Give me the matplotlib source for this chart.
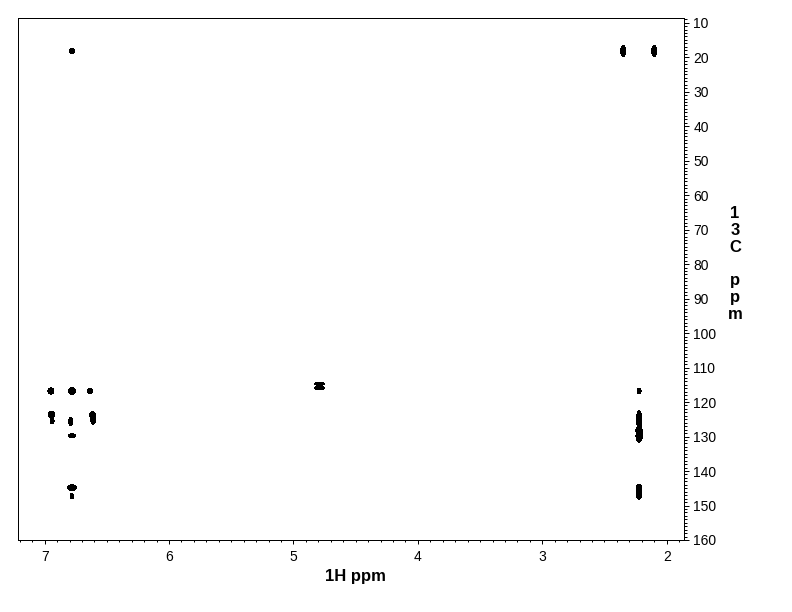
import numpy as np
import matplotlib
matplotlib.use("Agg")
import matplotlib.pyplot as plt
from matplotlib.ticker import MultipleLocator

plt.rcParams['font.family'] = ['Liberation Sans', 'DejaVu Sans']

# Cross-peak list: 1H shift, 13C shift, full widths (ppm) of the drawn contour
peak_h = [6.78, 2.35, 2.10, 4.79, 4.79,
          6.95, 6.78, 6.635,
          6.945, 6.94, 6.79, 6.615, 6.61,
          6.78, 6.78, 6.78,
          2.222, 2.222, 2.222, 2.222, 2.222, 2.222, 2.222]
peak_c = [18.2, 18.2, 18.2, 114.7, 115.9,
          116.8, 116.8, 116.8,
          123.6, 125.6, 125.7, 123.7, 125.6,
          129.8, 144.8, 147.3,
          116.8, 123.8, 125.6, 129.9, 145.2, 147.2, 128.1]
peak_wh = [0.040, 0.040, 0.040, 0.085, 0.085,
           0.048, 0.052, 0.040,
           0.050, 0.030, 0.034, 0.048, 0.034,
           0.058, 0.075, 0.030,
           0.032, 0.030, 0.042, 0.050, 0.046, 0.032, 0.036]
peak_wc = [1.5, 3.2, 3.2, 0.8, 0.9,
           1.8, 1.9, 1.6,
           1.9, 1.3, 2.4, 1.9, 1.6,
           1.2, 1.6, 1.5,
           1.6, 2.4, 2.6, 3.4, 2.8, 1.8, 1.2]

x_ticks = [7, 6, 5, 4, 3, 2]
y_ticks = list(range(10, 161, 10))
x_range = (7.214, 1.861)
y_range = (8.64, 160.0)

fig = plt.figure(figsize=(7.92, 6.12), dpi=100)
ax = fig.add_axes([18/792, 72/612, 666/792, 522/612])

hh = np.linspace(x_range[1], x_range[0], 2400)
cc = np.linspace(y_range[0], y_range[1], 1600)
H, C = np.meshgrid(hh, cc)
Z = np.zeros_like(H)
k = 2 * 1.1774
for h0, c0, wh, wc in zip(peak_h, peak_c, peak_wh, peak_wc):
    sh = wh / k
    sc = wc / k
    Z += np.exp(-0.5 * (((H - h0) / sh) ** 2 + ((C - c0) / sc) ** 2))

ax.contourf(H, C, Z, levels=[0.5, 1e9], colors='black')

ax.set_xlim(*x_range)
ax.set_ylim(y_range[1], y_range[0])

ax.xaxis.set_minor_locator(MultipleLocator(0.1))
ax.yaxis.set_minor_locator(MultipleLocator(1))
ax.set_xticks(x_ticks)
ax.set_xticklabels([str(t) for t in x_ticks])
ax.set_yticks(y_ticks)
ax.set_yticklabels([str(t) for t in y_ticks])

ax.yaxis.tick_right()
ax.tick_params(axis='x', which='major', direction='out', length=3.5*0.72, width=0.72,
               labelsize=10, pad=5, bottom=True, top=False)
ax.tick_params(axis='x', which='minor', direction='out', length=2*0.72, width=0.72,
               bottom=True, top=False)
ax.tick_params(axis='y', which='major', direction='out', length=5*0.72, width=0.72,
               labelsize=10, pad=3, right=True, left=False)
ax.tick_params(axis='y', which='minor', direction='out', length=3*0.72, width=0.72,
               right=True, left=False)
for s in ax.spines.values():
    s.set_linewidth(0.72)

fig.text(355/792, 1 - 577/612, '1H ppm', ha='center', va='center',
         fontsize=12, fontweight='bold')
fig.text(735/792, 1 - 264/612, '1\n3\nC\n\np\np\nm', ha='center', va='center',
         fontsize=12, fontweight='bold', linespacing=1.14)

fig.savefig('out.png', dpi=100)
